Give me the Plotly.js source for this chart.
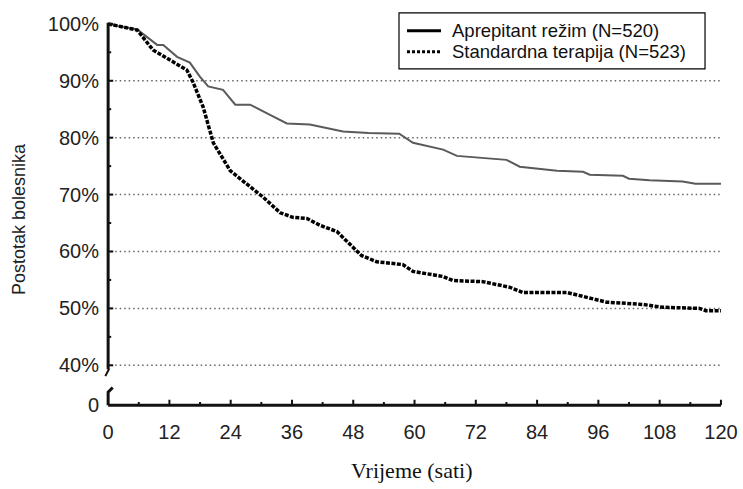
<!DOCTYPE html>
<html>
<head>
<meta charset="utf-8">
<script src="https://cdn.plot.ly/plotly-3.0.1.min.js"></script>
<style>html,body{margin:0;padding:0;background:#fff;}#chart{width:743px;height:489px;}</style>
</head>
<body>
<div id="chart"></div>
<script>
// Aprepitant režim (N=520) – upper curve
const aprT = [0, 2, 5.7, 9.6, 10.8, 13.5, 16, 18, 19.6, 22.5, 24.9, 27.8, 31.7, 35, 39.5, 42, 46, 51, 57, 59.7, 65.6, 68.3, 78, 80.6, 87.9, 93, 94.3, 100.8, 102, 106, 112.5, 115, 120];
const aprY = [100, 99.6, 99, 96.3, 96.3, 94.2, 93.2, 90.7, 89, 88.4, 85.8, 85.8, 84.0, 82.5, 82.3, 81.8, 81.1, 80.8, 80.7, 79.1, 77.9, 76.8, 76.1, 74.9, 74.2, 74.0, 73.5, 73.3, 72.8, 72.5, 72.3, 71.9, 71.9];
// Standardna terapija (N=523) – lower curve
const stdT = [0, 2, 5.7, 8.8, 12.1, 15.4, 16.6, 18.6, 20.6, 23.9, 27.5, 30.3, 33.7, 36.2, 38.9, 41.5, 44.8, 47.4, 49.6, 52.6, 57.7, 59.7, 65.6, 67.5, 73.4, 78.7, 81.2, 89.8, 94.3, 97.6, 104.7, 108.6, 115.8, 117, 120];
const stdY = [100, 99.6, 98.9, 95.4, 93.7, 91.9, 89.8, 85.4, 79.1, 74.2, 71.6, 69.6, 66.8, 66.0, 65.8, 64.6, 63.5, 61.2, 59.3, 58.2, 57.7, 56.5, 55.6, 54.9, 54.7, 53.7, 52.8, 52.8, 51.9, 51.1, 50.7, 50.2, 50.0, 49.6, 49.6];

const seriesNames = ['Aprepitant režim (N=520)', 'Standardna terapija (N=523)'];
const xTickVals = [0, 12, 24, 36, 48, 60, 72, 84, 96, 108, 120];
const xTickText = ['0', '12', '24', '36', '48', '60', '72', '84', '96', '108', '120'];
const xMinorVals = [6, 18, 30, 42, 54, 66, 78, 90, 102, 114];
const yTickVals = [33, 40, 50, 60, 70, 80, 90, 100];
const yTickText = ['0', '40%', '50%', '60%', '70%', '80%', '90%', '100%'];
const yMinorVals = [45, 55, 65, 75, 85, 95];
const gridVals = [40, 50, 60, 70, 80, 90];
const yBase = 33;      // where the broken axis shows "0"
const yBreakTop = 39.3; // upper segment of the y axis ends here

const traces = [
  {x: aprT, y: aprY, mode: 'lines', name: seriesNames[0], line: {color: '#5a5a5a', width: 2}, showlegend: false, hoverinfo: 'skip'},
  {x: stdT, y: stdY, mode: 'lines', name: seriesNames[1], line: {color: '#000', width: 3.5, dash: '4px,1.5px'}, showlegend: false, hoverinfo: 'skip'}
];

const shapes = [];
gridVals.forEach(v => shapes.push({type: 'line', xref: 'x', yref: 'y', x0: 0.5, x1: 120, y0: v, y1: v,
  line: {color: '#666', width: 1.5, dash: '1.5px,3px'}, layer: 'below'}));
// y axis (broken)
shapes.push({type: 'line', xref: 'x', yref: 'y', x0: 0, x1: 0, y0: yBreakTop, y1: 100.2, line: {color: '#111', width: 3}});
shapes.push({type: 'line', xref: 'x', yref: 'y', x0: 0.2, x1: -0.55, y0: yBreakTop + 0.1, y1: 38.1, line: {color: '#111', width: 2}});
shapes.push({type: 'path', xref: 'x', yref: 'y', path: `M 0 ${yBase} L 0 35.3 L 0.9 36.1`, line: {color: '#111', width: 3}});
// x axis
shapes.push({type: 'line', xref: 'x', yref: 'y', x0: 0, x1: 120, y0: yBase, y1: yBase, line: {color: '#111', width: 3}});
// x ticks
xTickVals.slice(1).forEach(v => shapes.push({type: 'line', xref: 'x', yref: 'y', x0: v, x1: v, y0: yBase, y1: yBase + 0.95, line: {color: '#111', width: 2}}));
xMinorVals.forEach(v => shapes.push({type: 'line', xref: 'x', yref: 'y', x0: v, x1: v, y0: yBase, y1: yBase + 0.55, line: {color: '#111', width: 2}}));
// y ticks
yTickVals.slice(1).forEach(v => shapes.push({type: 'line', xref: 'x', yref: 'y', x0: 0, x1: 1.0, y0: v, y1: v, line: {color: '#111', width: 2}}));
yMinorVals.forEach(v => shapes.push({type: 'line', xref: 'x', yref: 'y', x0: 0, x1: 0.6, y0: v, y1: v, line: {color: '#111', width: 2}}));
// legend box and swatches
shapes.push({type: 'rect', xref: 'paper', yref: 'paper', x0: 0.4775, x1: 0.9695, y0: 0.8764, y1: 1.0212,
  fillcolor: '#fff', line: {color: '#000', width: 1.2}});
shapes.push({type: 'line', xref: 'paper', yref: 'paper', x0: 0.4904, x1: 0.5450, y0: 0.9747, y1: 0.9747, line: {color: '#000', width: 3}});
shapes.push({type: 'line', xref: 'paper', yref: 'paper', x0: 0.4904, x1: 0.5450, y0: 0.9204, y1: 0.9204, line: {color: '#000', width: 3, dash: '3px,2px'}});

const layout = {
  width: 743, height: 489,
  margin: {l: 102, r: 19, t: 21, b: 81, pad: 0},
  paper_bgcolor: '#fff', plot_bgcolor: '#fff',
  font: {family: 'Liberation Sans, Arial, sans-serif', color: '#222'},
  xaxis: {range: [-1.2, 120.6], tickmode: 'array', tickvals: xTickVals, ticktext: xTickText,
    showgrid: false, zeroline: false, showline: false, ticks: '', ticklabelstandoff: 10,
    tickfont: {size: 20, color: '#222'}},
  yaxis: {range: [32.5, 100.5], tickmode: 'array', tickvals: yTickVals, ticktext: yTickText,
    showgrid: false, zeroline: false, showline: false, ticks: '', ticklabelstandoff: 2,
    tickfont: {size: 20, color: '#222'}},
  showlegend: false,
  shapes: shapes,
  annotations: [
    {text: seriesNames[0], xref: 'paper', yref: 'paper', x: 0.5595, y: 0.9747, showarrow: false,
      xanchor: 'left', yanchor: 'middle', font: {size: 18.5, color: '#111'}},
    {text: seriesNames[1], xref: 'paper', yref: 'paper', x: 0.5595, y: 0.9204, showarrow: false,
      xanchor: 'left', yanchor: 'middle', font: {size: 18.5, color: '#111'}},
    {text: 'Postotak bolesnika', xref: 'paper', yref: 'paper', x: -0.1334, y: 0.4885, textangle: -90,
      showarrow: false, xanchor: 'center', yanchor: 'middle', font: {size: 18, color: '#222'}},
    {text: 'Vrijeme (sati)', xref: 'paper', yref: 'paper', x: 0.498, y: -0.1606,
      showarrow: false, xanchor: 'center', yanchor: 'middle', font: {family: 'Liberation Serif, Times New Roman, serif', size: 22, color: '#111'}}
  ]
};

Plotly.newPlot('chart', traces, layout, {displayModeBar: false, staticPlot: true});
</script>
</body>
</html>
